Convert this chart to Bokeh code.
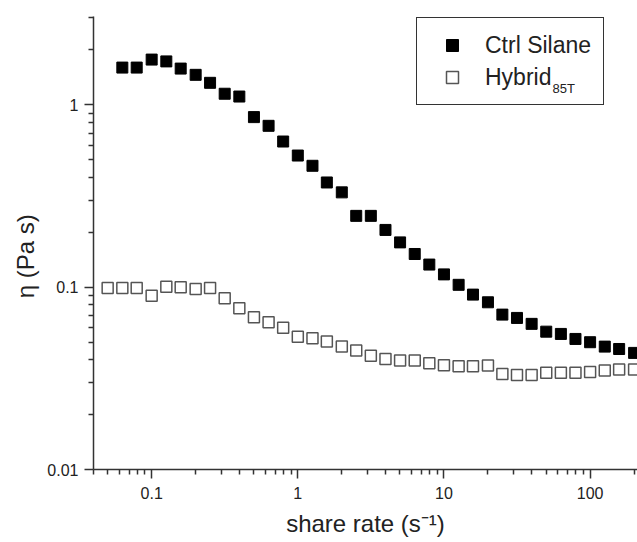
from bokeh.plotting import figure
from bokeh.models import FixedTicker, Legend, LegendItem, Label, CustomJSTickFormatter, ColumnDataSource
from bokeh.embed import file_html
from bokeh.resources import INLINE

# ---- data ----
shear_rate = [0.05, 0.063, 0.079, 0.1, 0.126, 0.158, 0.2, 0.251, 0.316, 0.398,
              0.501, 0.631, 0.794, 1.0, 1.26, 1.58, 2.0, 2.51, 3.16, 3.98,
              5.01, 6.31, 7.94, 10.0, 12.6, 15.8, 20.0, 25.1, 31.6, 39.8,
              50.1, 63.1, 79.4, 100.0, 126.0, 158.0, 200.0]

ctrl_rate = shear_rate[1:]
ctrl_silane = [1.60, 1.60, 1.77, 1.73, 1.58, 1.46, 1.32, 1.15, 1.11, 0.856,
               0.767, 0.629, 0.527, 0.463, 0.375, 0.331, 0.246, 0.246, 0.206, 0.176,
               0.152, 0.133, 0.1175, 0.103, 0.091, 0.0826, 0.0707, 0.0678, 0.0629, 0.057,
               0.0554, 0.052, 0.0499, 0.0472, 0.0458, 0.0436]

hybrid_rate = shear_rate
hybrid_85t = [0.099, 0.099, 0.099, 0.0898, 0.1006, 0.100, 0.0977, 0.099, 0.0868, 0.0765,
              0.0683, 0.0641, 0.0598, 0.0535, 0.0524, 0.0503, 0.0472, 0.0449, 0.0421, 0.0404,
              0.0396, 0.0396, 0.0382, 0.0373, 0.0368, 0.0368, 0.0372, 0.0334, 0.033, 0.033,
              0.0339, 0.0339, 0.0339, 0.0343, 0.0349, 0.0353, 0.0353]

x_tick_labels = ["0.1", "1", "10", "100"]
y_tick_labels = ["0.01", "0.1", "1"]
series_names = ["Ctrl Silane", "Hybrid"]
subscript = "85T"
x_title = "share rate (s\u207b\u00b9)"
y_title = "\u03b7  (Pa s)"

FONT = "Liberation Sans"
AXIS_COLOR = "#333333"
TEXT_COLOR = "#222222"

x_ticks = [float(s) for s in x_tick_labels]
y_ticks = [float(s) for s in y_tick_labels]
x_minor = [m * 10.0 ** k for k in range(-2, 3) for m in range(2, 10)]
y_minor = [m * 10.0 ** k for k in range(-3, 1) for m in range(2, 10)]

p = figure(frame_width=544, frame_height=453,
           x_axis_type="log", y_axis_type="log",
           x_range=(0.04, 211), y_range=(0.01, 3.05),
           output_backend="svg", toolbar_location=None,
           min_border_left=93, min_border_right=0, min_border_top=16, min_border_bottom=73,
           background_fill_color="white", border_fill_color="white")
p.outline_line_color = None
p.grid.visible = False

fmt_code = """
const i = tv.findIndex(t => Math.abs(Math.log10(t) - Math.log10(tick)) < 1e-6);
return i >= 0 ? lbl[i] : String(tick);
"""
p.xaxis.ticker = FixedTicker(ticks=x_ticks, minor_ticks=x_minor)
p.yaxis.ticker = FixedTicker(ticks=y_ticks, minor_ticks=y_minor)
p.xaxis.formatter = CustomJSTickFormatter(args=dict(tv=x_ticks, lbl=x_tick_labels), code=fmt_code)
p.yaxis.formatter = CustomJSTickFormatter(args=dict(tv=y_ticks, lbl=y_tick_labels), code=fmt_code)

for ax in (p.xaxis, p.yaxis):
    ax.axis_line_color = AXIS_COLOR
    ax.axis_line_width = 1.5
    ax.major_tick_line_color = AXIS_COLOR
    ax.minor_tick_line_color = AXIS_COLOR
    ax.major_tick_line_width = 1.5
    ax.minor_tick_line_width = 1.5
    ax.major_tick_in = 0
    ax.major_tick_out = 9
    ax.minor_tick_in = 0
    ax.minor_tick_out = 5
    ax.major_label_text_font = FONT
    ax.major_label_text_font_size = "16px"
    ax.major_label_text_color = TEXT_COLOR
    ax.axis_label_text_font = FONT
    ax.axis_label_text_font_size = "24px"
    ax.axis_label_text_font_style = "normal"
    ax.axis_label_text_color = TEXT_COLOR

p.xaxis.major_label_standoff = 8
p.yaxis.major_label_standoff = 6

p.xaxis.axis_label = x_title
p.xaxis.axis_label_standoff = 8
# trailing spaces move the centred title slightly down, as in the reference
p.yaxis.axis_label = y_title + "   "
p.yaxis.axis_label_standoff = 5

src_c = ColumnDataSource(dict(x=ctrl_rate, y=ctrl_silane))
src_h = ColumnDataSource(dict(x=hybrid_rate, y=hybrid_85t))

r_c = p.scatter("x", "y", source=src_c, marker="square", size=11,
                fill_color="black", line_color="black", line_width=1)
r_h = p.scatter("x", "y", source=src_h, marker="square", size=11,
                fill_color="white", line_color="#555555", line_width=1.5)

legend = Legend(items=[LegendItem(label=series_names[0], renderers=[r_c]),
                       LegendItem(label=series_names[1], renderers=[r_h])],
                location=(323, 364),
                padding=12, spacing=2, margin=0,
                glyph_width=46, glyph_height=30, label_height=30,
                label_standoff=10,
                label_text_font=FONT, label_text_font_size="23px",
                label_text_color=TEXT_COLOR,
                border_line_color="#333333", border_line_width=1,
                border_line_alpha=1.0,
                background_fill_alpha=0.0)
p.add_layout(legend, "center")

sub = Label(x=459, y=381, x_units="screen", y_units="screen",
            text=subscript, text_font=FONT, text_font_size="13px",
            text_color=TEXT_COLOR, text_baseline="alphabetic", text_align="left")
p.add_layout(sub)

open("out.html", "w").write(file_html(p, INLINE))
